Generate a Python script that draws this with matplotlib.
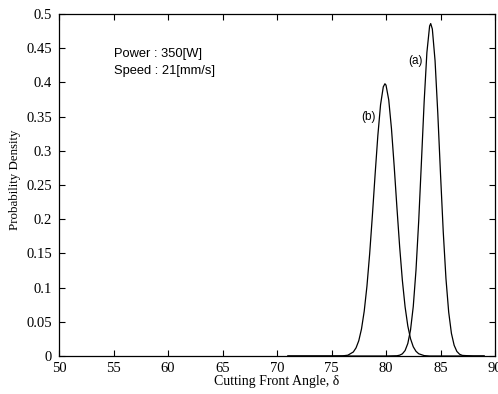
import numpy as np
import matplotlib.pyplot as plt

# curve (a)
xa = [71, 80, 81, 81.25, 81.5, 81.75, 82, 82.25, 82.5, 82.75, 83, 83.25, 83.5, 83.75,
      84, 84.1, 84.25, 84.5, 84.75, 85, 85.25, 85.5, 85.75, 86, 86.25, 86.5, 86.75, 87, 88, 89]
ya = [0, 0, 0.0004, 0.0012, 0.0032, 0.0080, 0.0183, 0.0382, 0.0724, 0.1254, 0.1976, 0.284, 0.372, 0.4437,
      0.4824, 0.486, 0.478, 0.4316, 0.355, 0.2661, 0.1818, 0.1131, 0.0642, 0.0332, 0.0157, 0.0067, 0.0026, 0.0009, 0, 0]

# curve (b)
xb = [71, 75, 76, 76.5, 77, 77.25, 77.5, 77.75, 78, 78.25, 78.5, 78.75, 79, 79.25, 79.5, 79.75,
      79.9, 80, 80.25, 80.5, 80.75, 81, 81.25, 81.5, 81.75, 82, 82.25, 82.5, 82.75, 83, 83.5, 84, 89]
yb = [0, 0, 0.0002, 0.0012, 0.0059, 0.0119, 0.0223, 0.0395, 0.0655, 0.1020, 0.1494, 0.2055, 0.2655, 0.3222, 0.3674, 0.3935,
      0.398, 0.396, 0.3744, 0.3324, 0.2774, 0.2173, 0.1600, 0.1106, 0.0719, 0.0439, 0.0252, 0.0135, 0.0069, 0.0033, 0.0006, 0, 0]

xticks = np.arange(50, 91, 5)
yticks = np.arange(0, 0.51, 0.05)
ytick_labels = ['0', '0.05', '0.1', '0.15', '0.2', '0.25', '0.3', '0.35', '0.4', '0.45', '0.5']

fig = plt.figure(figsize=(4.98, 3.94), dpi=100)
ax = fig.add_axes([0.1185, 0.0964, 0.8755, 0.8681])

ax.plot(xa, ya, color='black', lw=0.9)
ax.plot(xb, yb, color='black', lw=0.9)

ax.set_xlim(50, 90)
ax.set_ylim(0, 0.5)
ax.set_xticks(xticks)
ax.set_yticks(yticks)
ax.set_yticklabels(ytick_labels)
ax.tick_params(direction='in', top=True, right=True, length=4, width=0.8, labelsize=10.5)
ax.tick_params(axis='y', pad=5)
ax.tick_params(axis='x', pad=4)
for lab in ax.get_xticklabels() + ax.get_yticklabels():
    lab.set_family('Liberation Serif')
for s in ax.spines.values():
    s.set_linewidth(0.9)

ax.set_xlabel('Cutting Front Angle, δ', family='Liberation Serif', fontsize=10, labelpad=0)
ax.set_ylabel('Probability Density', family='Liberation Serif', fontsize=9.3)
ax.yaxis.set_label_coords(-0.1, 0.515)
ax.yaxis.label.set_va('center')
ax.yaxis.set_label_coords(-0.101, 0.515)

ax.text(55, 0.4415, 'Power : 350[W]', family='Liberation Sans', fontsize=9.3, va='center')
ax.text(55, 0.417, 'Speed : 21[mm/s]', family='Liberation Sans', fontsize=9.3, va='center')
ax.text(82.75, 0.431, '(a)', family='Liberation Sans', fontsize=8.5, ha='center', va='center')
ax.text(78.36, 0.35, '(b)', family='Liberation Sans', fontsize=8.5, ha='center', va='center')

fig.savefig('out.png', dpi=100)
